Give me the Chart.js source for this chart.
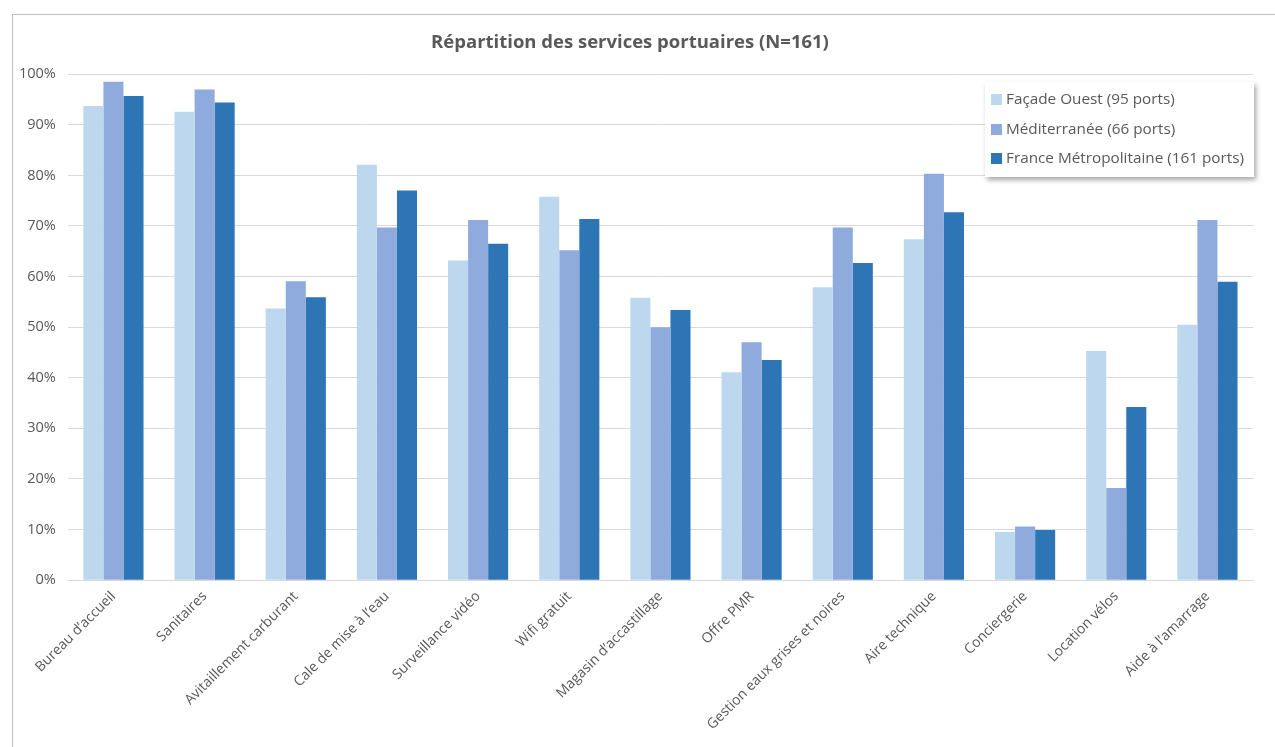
<!DOCTYPE html>
<html lang="fr">
<head>
<meta charset="utf-8">
<title>Répartition des services portuaires</title>
<script src="https://cdn.jsdelivr.net/npm/chart.js@4"></script>
<style>
  html, body { margin: 0; padding: 0; background: #fff; }
  body { width: 1275px; height: 747px; position: relative; overflow: hidden; font-family: "Open Sans", sans-serif; }
  .frame { position: absolute; left: 12px; top: 14px; width: 1300px; height: 800px; border-left: 1px solid #bfbfbf; border-top: 1px solid #bfbfbf; }
  .wrap { position: absolute; left: 0; top: 0; width: 1275px; height: 747px; }
  .legend { position: absolute; left: 985px; top: 82px; width: 269px; height: 95px; background: #fff;
            box-shadow: 2px 3px 5px rgba(0,0,0,0.35); font-size: 15.3px; color: #595959; }
  .legend div { position: absolute; left: 6px; white-space: nowrap; }
  .legend span { display: inline-block; width: 11px; height: 11px; margin-right: 4px; vertical-align: -1px; }
</style>
</head>
<body>
<div class="frame"></div>
<div class="wrap"><canvas id="chart" width="1275" height="747"></canvas></div>
<div class="legend" id="legend"></div>
<script>
// Categories and values (%)
const categories = [
  "Bureau d\u2019accueil", "Sanitaires", "Avitaillement carburant", "Cale de mise \u00e0 l\u2019eau",
  "Surveillance vid\u00e9o", "Wifi gratuit", "Magasin d\u2019accastillage", "Offre PMR",
  "Gestion eaux grises et noires", "Aire technique", "Conciergerie", "Location v\u00e9los",
  "Aide \u00e0 l\u2019amarrage"
];
const seriesNames = ["Fa\u00e7ade Ouest (95 ports)", "M\u00e9diterran\u00e9e (66 ports)", "France M\u00e9tropolitaine (161 ports)"];
const facadeOuest   = [93.7, 92.6, 53.7, 82.1, 63.2, 75.8, 55.8, 41.1, 57.9, 67.4, 9.5, 45.3, 50.5];
const mediterranee  = [98.5, 97.0, 59.1, 69.7, 71.2, 65.2, 50.0, 47.0, 69.7, 80.3, 10.6, 18.2, 71.2];
const franceMetro   = [95.7, 94.4, 55.9, 77.0, 66.5, 71.4, 53.4, 43.5, 62.7, 72.7, 9.9, 34.2, 59.0];
const yTicks = [0, 10, 20, 30, 40, 50, 60, 70, 80, 90, 100];
const colors = ["#BDD7EE", "#8FAADC", "#2E75B6"];

const seriesValues = [facadeOuest, mediterranee, franceMetro];
const datasets = seriesNames.map((name, i) => ({
  label: name,
  data: seriesValues[i],
  backgroundColor: colors[i],
  borderWidth: 0,
  categoryPercentage: 0.66,
  barPercentage: 1.0
}));

new Chart(document.getElementById('chart'), {
  type: 'bar',
  data: { labels: categories, datasets: datasets },
  options: {
    responsive: false,
    animation: false,
    devicePixelRatio: 1,
    layout: { padding: { left: 7, right: 22, top: 21, bottom: 6 } },
    plugins: {
      legend: { display: false },
      tooltip: { enabled: false },
      title: {
        display: true,
        text: 'R\u00e9partition des services portuaires (N=161)',
        color: '#595959',
        font: { family: '"Open Sans", sans-serif', size: 18.5, weight: 'bold' },
        padding: { top: 11, bottom: 20 }
      }
    },
    scales: {
      x: {
        grid: { display: false, drawTicks: false },
        border: { color: '#d9d9d9' },
        ticks: {
          color: '#595959',
          minRotation: 45,
          maxRotation: 45,
          padding: 8,
          font: { family: '"Open Sans", sans-serif', size: 14 }
        }
      },
      y: {
        min: 0,
        max: 100,
        afterBuildTicks: axis => { axis.ticks = yTicks.map(v => ({ value: v })); },
        grid: { color: '#d9d9d9', drawTicks: false },
        border: { display: false },
        ticks: {
          color: '#595959',
          padding: 12,
          font: { family: '"Open Sans", sans-serif', size: 14.5 },
          callback: v => v + '%'
        }
      }
    }
  }
});

// HTML legend, boxed with a shadow like the original
const legendEl = document.getElementById('legend');
seriesNames.forEach((name, i) => {
  const row = document.createElement('div');
  row.style.top = (6 + i * 29.5) + 'px';
  row.innerHTML = '<span style="background:' + colors[i] + '"></span>' + name;
  legendEl.appendChild(row);
});
</script>
</body>
</html>
